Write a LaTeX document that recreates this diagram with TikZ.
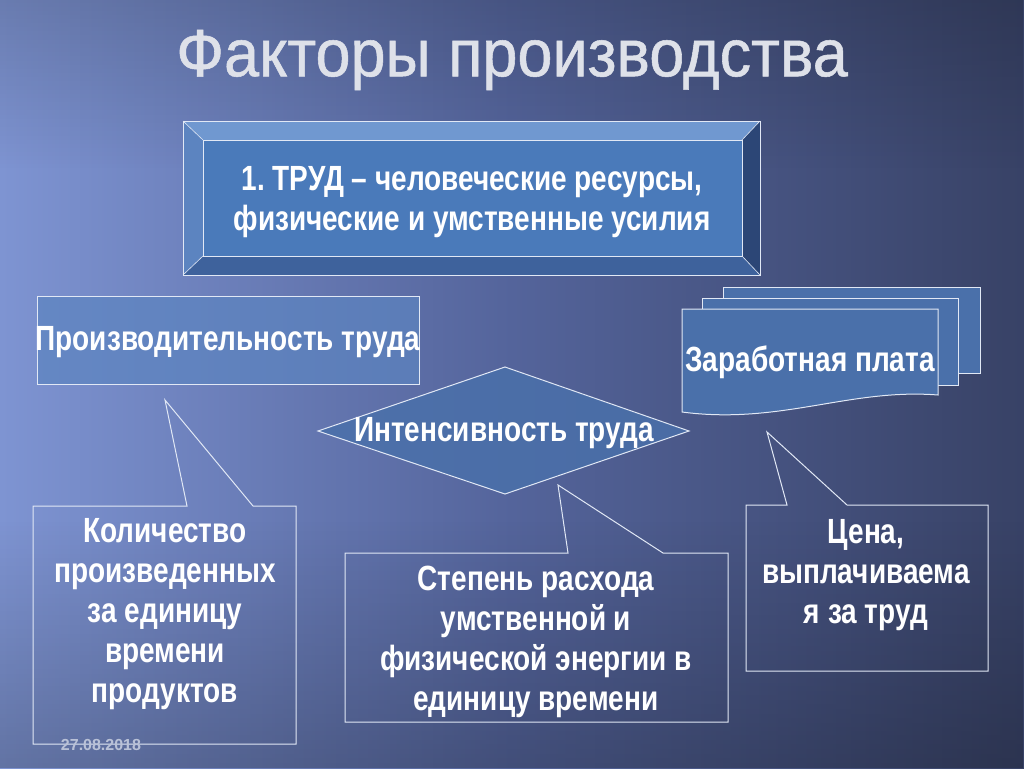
\documentclass[tikz,border=0pt]{standalone}
\usepackage{fontspec}
\setmainfont{Liberation Sans}
\newfontfamily\nar[FakeStretch=0.80]{Liberation Sans}
\newfontfamily\tnar[FakeStretch=0.94,FakeBold=0.8]{Liberation Sans}
\usetikzlibrary{fadings}
\definecolor{bgL}{RGB}{126,148,210}
\definecolor{bgM}{RGB}{84,100,155}
\definecolor{bgR}{RGB}{56,66,102}
\definecolor{boxfill}{RGB}{74,112,170}
\definecolor{bevT}{RGB}{112,152,208}
\definecolor{bevL}{RGB}{92,132,192}
\definecolor{bevR}{RGB}{44,70,118}
\definecolor{bevB}{RGB}{62,98,156}
\definecolor{face}{RGB}{74,122,186}
\definecolor{edge}{RGB}{225,232,245}
\definecolor{titlec}{RGB}{222,225,233}
\definecolor{datec}{RGB}{185,193,215}
\tikzfading[name=fadeR, left color=transparent!0, right color=transparent!100]
\tikzfading[name=fadeV, top color=transparent!0, bottom color=transparent!100]
\tikzfading[name=fadeUp, top color=transparent!100, bottom color=transparent!0]
\tikzfading[name=band, top color=transparent!100, middle color=transparent!0, bottom color=transparent!100]
\tikzset{
  lbl/.style={text=white, font=\nar\bfseries\fontsize{35}{40}\selectfont, align=center, inner sep=0pt},
  outl/.style={draw=edge, line width=1pt},
  shp/.style={outl, fill=boxfill, fill opacity=0.85},
}
\begin{document}
\begin{tikzpicture}[x=1pt,y=-1pt]
\useasboundingbox (0,0) rectangle (1024,768);
% background
\shade[left color=bgL, right color=bgR, middle color=bgM] (0,0) rectangle (1024,768);
\fill[black, opacity=0.16, path fading=fadeV] (0,0) rectangle (1024,170);
\fill[white, opacity=0.24, path fading=band] (0,200) -- (0,520) -- (820,220) -- cycle;
\fill[white, opacity=0.10, path fading=band] (0,80) -- (0,330) -- (620,130) -- cycle;
\fill[black, opacity=0.22, path fading=fadeUp] (0,520) rectangle (1024,768);
% title
\node[text=titlec, font=\tnar\fontsize{67}{72}\selectfont, inner sep=0pt] (title) at (512,60) {Факторы производства};
% top bevel box
\fill[bevT] (183,121) -- (760,121) -- (742,140) -- (203,140) -- cycle;
\fill[bevL] (183,121) -- (203,140) -- (203,256) -- (183,275) -- cycle;
\fill[bevR] (760,121) -- (760,275) -- (742,256) -- (742,140) -- cycle;
\fill[bevB] (183,275) -- (760,275) -- (742,256) -- (203,256) -- cycle;
\fill[face] (203,140) rectangle (742,256);
\draw[outl, line width=0.8pt] (183,121) rectangle (760,275);
\draw[outl, line width=0.8pt] (203,140) rectangle (742,256);
\draw[outl, line width=0.6pt] (183,121) -- (203,140) (760,121) -- (742,140) (760,275) -- (742,256) (183,275) -- (203,256);
\node[lbl] (trud) at (472,202) {1.\ ТРУД – человеческие ресурсы,\\физические и умственные усилия};
% productivity box
\draw[shp, fill=bevL, fill opacity=0.7] (37,296) rectangle (419,384);
\node[lbl] (prod) at (228,342) {Производительность труда};
% stacked documents
\draw[shp, fill opacity=1] (723,287) rectangle (980,373);
\draw[shp, fill opacity=1] (702,298) rectangle (958,385);
\draw[shp, fill opacity=1] (682,309) -- (938,309) -- (938,395) .. controls (850,388) and (780,425) .. (682,412) -- cycle;
\node[lbl] (wage) at (810,362) {Заработная плата};
% diamond
\draw[shp] (318,431) -- (505,367) -- (689,431) -- (505,494) -- cycle;
\node[lbl] (intens) at (504,433) {Интенсивность труда};
% callouts
\draw[outl] (187,506) -- (165,400) -- (253,506) -- (296,506) -- (296,744) -- (33,744) -- (33,506) -- cycle;
\node[lbl] (qty) at (165,614) {Количество\\произведенных\\за единицу\\времени\\продуктов};
\draw[outl] (568,553) -- (558,485) -- (663,553) -- (728,553) -- (728,722) -- (345,722) -- (345,553) -- cycle;
\node[lbl] (degree) at (536,642) {Степень расхода\\умственной и\\физической энергии в\\единицу времени};
\draw[outl] (787,505) -- (767,432) -- (847,505) -- (988,505) -- (988,671) -- (746,671) -- (746,505) -- cycle;
\node[lbl] (price) at (866,575) {Цена,\\выплачиваема\\я за труд};
% date
\node[text=datec, font=\bfseries\fontsize{16}{18}\selectfont, inner sep=0pt] (date) at (101,745) {27.08.2018};
\end{tikzpicture}
\end{document}
